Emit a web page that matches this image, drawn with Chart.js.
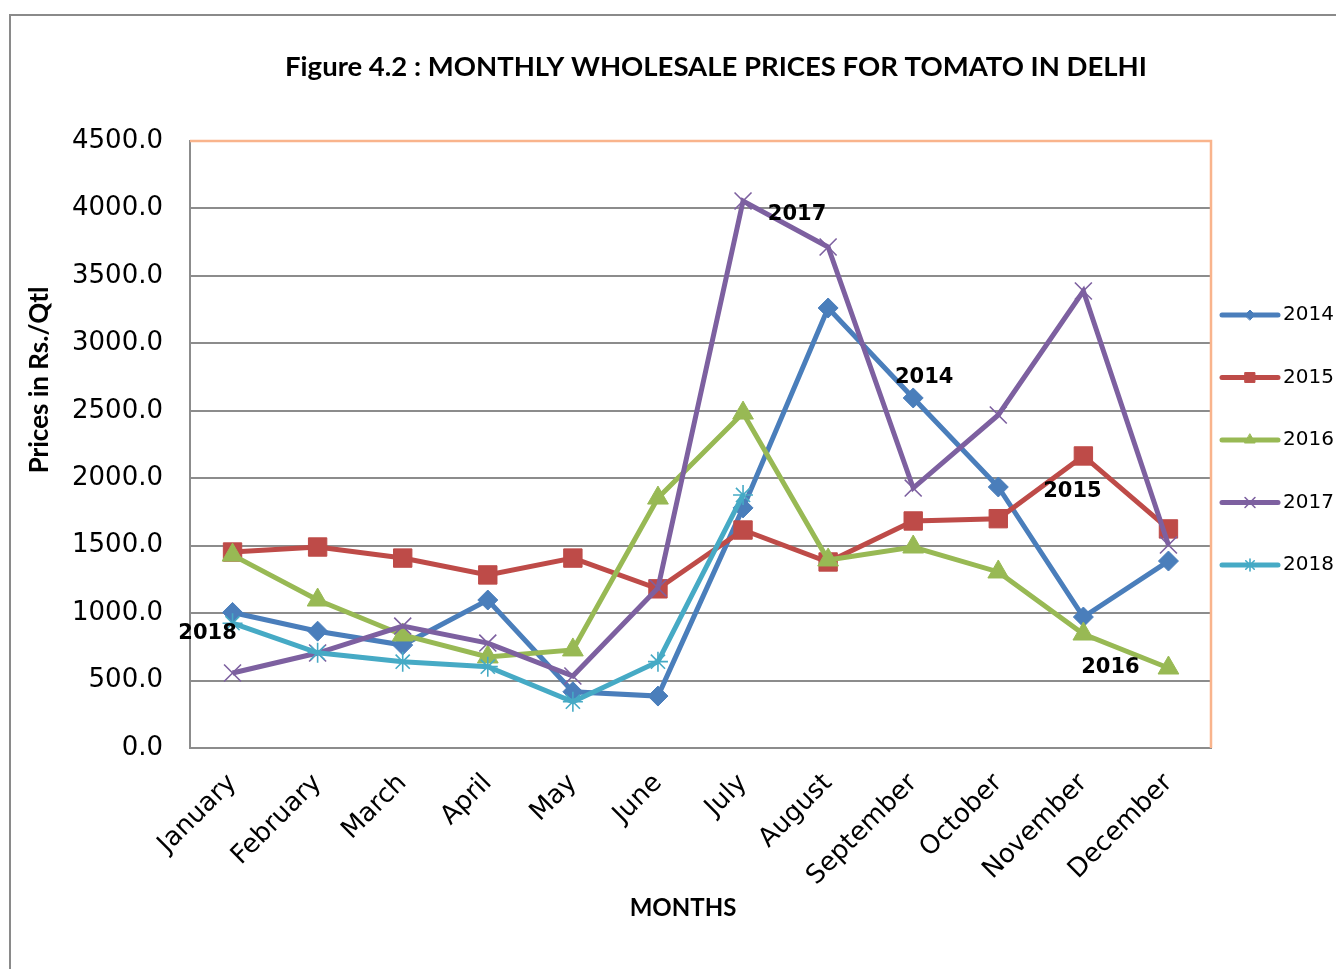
<!DOCTYPE html>
<html><head><meta charset="utf-8">
<script src="https://cdn.jsdelivr.net/npm/chart.js@4.4.1/dist/chart.umd.min.js"></script>
<style>
html,body{margin:0;padding:0;background:#fff;}
#wrap{position:relative;width:1336px;height:969px;overflow:hidden;}
#frame{position:absolute;left:9px;top:14px;width:2000px;height:2000px;border-left:2px solid #8a8a8a;border-top:2px solid #8a8a8a;}
canvas{position:absolute;left:0;top:0;}
</style></head><body>
<div id="wrap"><div id="frame"></div><canvas id="c" width="1336" height="969"></canvas></div>
<script>
const months = ['January','February','March','April','May','June','July','August','September','October','November','December'];
const seriesNames = ['2014','2015','2016','2017','2018'];
const p2014 = [1005, 866, 763, 1097, 417, 385, 1780, 3262, 2595, 1935, 971, 1386];
const p2015 = [1453, 1490, 1408, 1283, 1408, 1180, 1616, 1379, 1683, 1700, 2165, 1624];
const p2016 = [1430, 1097, 838, 675, 727, 1853, 2483, 1394, 1490, 1305, 845, 593];
const p2017 = [556, 704, 904, 778, 534, 1186, 4055, 3714, 1927, 2469, 3388, 1505];
const p2018 = [925, 706, 640, 603, 343, 640, 1876, null, null, null, null, null];
const yTicks = [0, 500, 1000, 1500, 2000, 2500, 3000, 3500, 4000, 4500];
const titleText = 'Figure 4.2 : MONTHLY WHOLESALE PRICES FOR TOMATO IN DELHI';
const xTitle = 'MONTHS';
const yTitle = 'Prices in Rs./Qtl';
// series annotation labels: which series, which month index
const noteSeries = [3, 0, 1, 2, 4];
const noteIndex = [6, 8, 10, 11, 0];

const colors = ['#4A7EBB', '#BE4B48', '#98B954', '#7D60A0', '#46AAC5'];
const styles = ['rectRot', 'rect', 'triangle', 'crossRot', 'star'];
const radii = [10, 13, 12, 12, 10];
const pbw = [1, 1, 1, 1.6, 1.6];
const legendRadii = [5, 7, 6, 7, 6];
const noteOffsets = [[54, 14], [11, -20], [-11, 36], [-58, 0], [-25, 10]];

const allData = [p2014, p2015, p2016, p2017, p2018];
const datasets = allData.map((d, i) => ({
  label: seriesNames[i],
  data: d,
  borderColor: colors[i],
  backgroundColor: colors[i],
  pointBackgroundColor: colors[i],
  pointBorderColor: colors[i],
  pointStyle: styles[i],
  pointRadius: radii[i],
  pointHoverRadius: radii[i],
  pointBorderWidth: pbw[i],
  borderWidth: 5,
  tension: 0,
  spanGaps: false,
  order: 5 - i
}));

const deco = {
  id: 'deco',
  beforeDatasetsDraw(chart) {
    const {ctx, chartArea: a} = chart;
    ctx.save();
    ctx.strokeStyle = '#F9B48C';
    ctx.lineWidth = 2.5;
    ctx.beginPath();
    ctx.moveTo(a.left, a.top);
    ctx.lineTo(a.right, a.top);
    ctx.lineTo(a.right, a.bottom);
    ctx.stroke();
    ctx.restore();
  },
  afterDraw(chart) {
    const {ctx, chartArea: a} = chart;
    ctx.save();
    ctx.fillStyle = '#000';
    // title
    ctx.font = 'bold 27.5px Lato';
    ctx.textAlign = 'center';
    ctx.textBaseline = 'middle';
    ctx.fillText(titleText, 716, 67);
    // x title
    ctx.font = 'bold 24px Lato';
    ctx.fillText(xTitle, 683, 908);
    // y title
    ctx.save();
    ctx.font = 'bold 26px Lato';
    ctx.translate(40, 380);
    ctx.rotate(-Math.PI / 2);
    ctx.fillText(yTitle, 0, 0);
    ctx.restore();
    // annotations
    ctx.font = 'bold 21px "DejaVu Sans"';
    noteSeries.forEach((s, k) => {
      const pt = chart.getDatasetMeta(s).data[noteIndex[k]];
      ctx.fillText(seriesNames[s], pt.x + noteOffsets[k][0], pt.y + noteOffsets[k][1]);
    });
    // legend
    const lx = a.right + 11, lw = 56;
    ctx.font = '20px "DejaVu Sans"';
    ctx.textAlign = 'left';
    datasets.forEach((ds, i) => {
      const y = 315 + i * 62.5;
      ctx.strokeStyle = ds.borderColor;
      ctx.lineWidth = 5;
      ctx.lineCap = 'round';
      ctx.beginPath();
      ctx.moveTo(lx, y);
      ctx.lineTo(lx + lw, y);
      ctx.stroke();
      ctx.fillStyle = ds.borderColor;
      ctx.lineWidth = ds.pointBorderWidth;
      Chart.helpers.drawPoint(ctx, {pointStyle: ds.pointStyle, radius: legendRadii[i], borderWidth: ds.pointBorderWidth, rotation: 0}, lx + lw / 2, y);
      ctx.fillStyle = '#000';
      ctx.fillText(ds.label, lx + lw + 5, y);
    });
    ctx.restore();
  }
};

new Chart(document.getElementById('c'), {
  type: 'line',
  data: { labels: months, datasets },
  options: {
    responsive: false,
    animation: false,
    events: [],
    layout: { padding: { top: 141, right: 125, left: 0, bottom: 0 } },
    plugins: { legend: { display: false }, title: { display: false }, tooltip: { enabled: false } },
    scales: {
      x: {
        offset: true,
        grid: { display: false, drawTicks: false },
        border: { display: true, color: '#8C8C8C', width: 2 },
        ticks: { autoSkip: false, maxRotation: 45, minRotation: 45, padding: 20, color: '#000', font: { family: 'DejaVu Sans', size: 26 } },
        afterFit(s) { s.height = 221; }
      },
      y: {
        min: 0, max: 4500,
        afterBuildTicks(s) { s.ticks = yTicks.map(v => ({ value: v })); },
        grid: { color: '#8C8C8C', lineWidth: 2, drawTicks: false },
        border: { display: true, color: '#8C8C8C', width: 2 },
        ticks: { padding: 27, color: '#000', font: { family: 'DejaVu Sans', size: 26 }, callback: v => Number(v).toFixed(1) },
        afterFit(s) { s.width = 190; }
      }
    }
  },
  plugins: [deco]
});
</script>
</body></html>
